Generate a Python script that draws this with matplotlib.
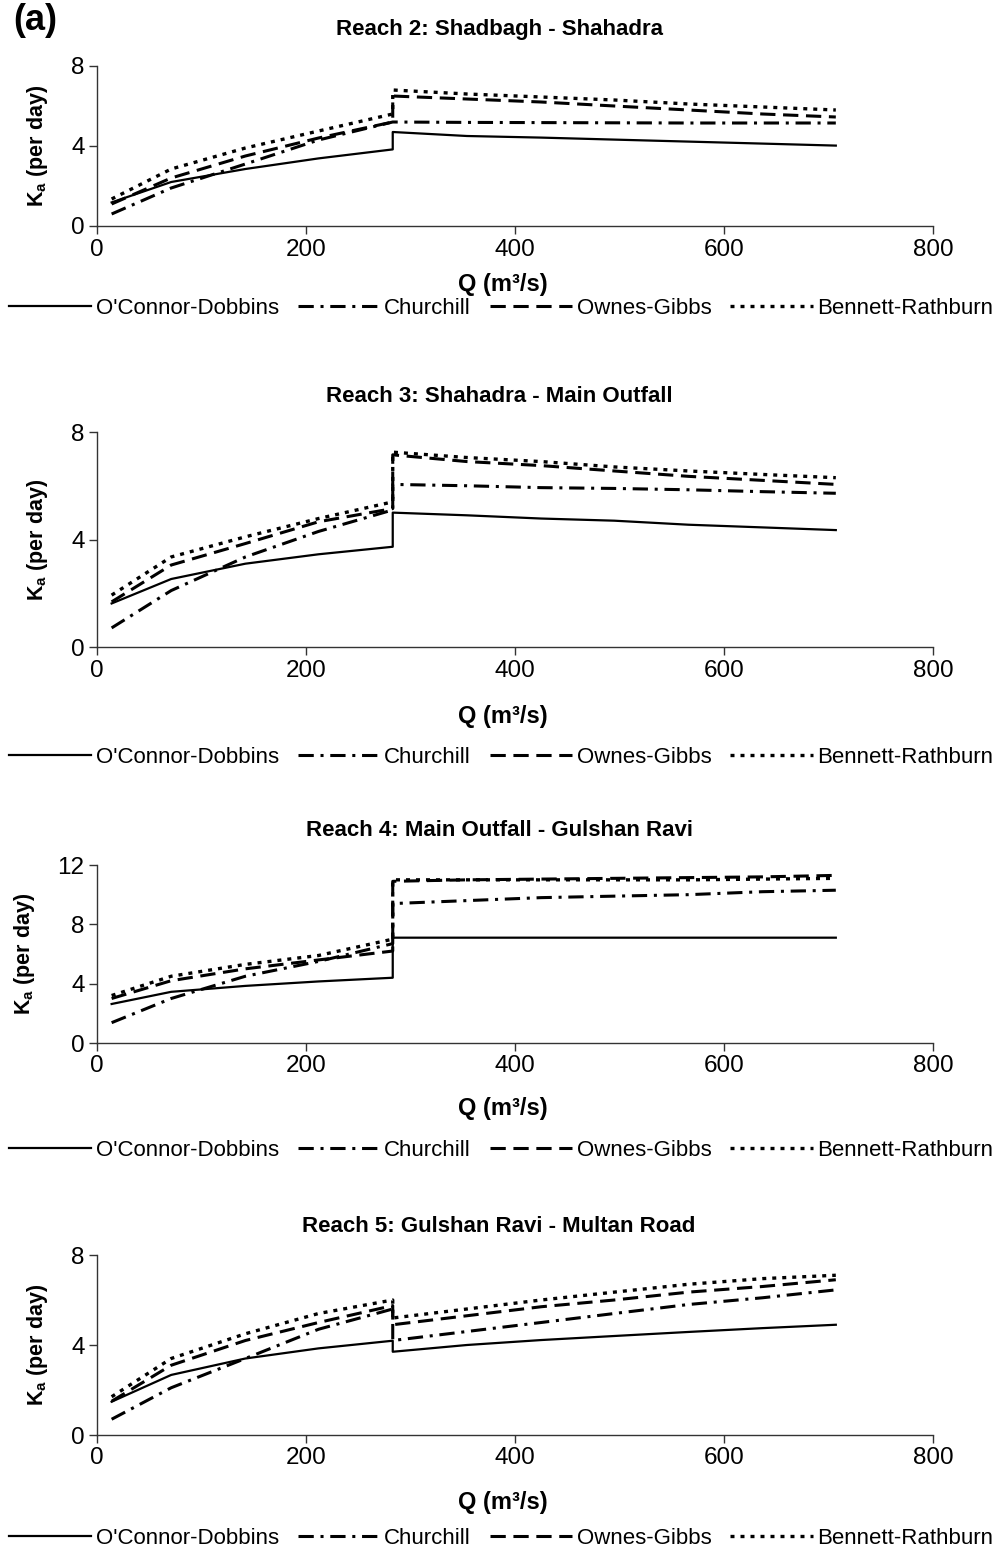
import matplotlib
matplotlib.use("Agg")
import matplotlib.pyplot as plt

plt.rcParams['font.family'] = ['Liberation Sans', 'DejaVu Sans']
plt.rcParams['mathtext.fontset'] = 'custom'
plt.rcParams['mathtext.rm'] = 'Liberation Sans'
plt.rcParams['mathtext.bf'] = 'Liberation Sans:bold'

# flow values, the double 283 is where the regime changes
Q = [14, 71, 142, 212, 283, 283, 354, 425, 495, 566, 637, 707]

methods = ["O'Connor-Dobbins", "Churchill", "Ownes-Gibbs", "Bennett-Rathburn"]

# Reach 2: Shadbagh - Shahadra
r2_oconnor = [1.18, 2.2, 2.85, 3.38, 3.83, 4.7, 4.5, 4.42, 4.32, 4.22, 4.12, 4.02]
r2_churchill = [0.6, 1.9, 3.1, 4.3, 5.2, 5.2, 5.18, 5.17, 5.16, 5.15, 5.15, 5.15]
r2_owens = [1.1, 2.4, 3.5, 4.4, 5.2, 6.5, 6.35, 6.2, 6.0, 5.8, 5.6, 5.45]
r2_bennett = [1.35, 2.85, 3.9, 4.75, 5.6, 6.8, 6.6, 6.45, 6.3, 6.1, 5.95, 5.8]

# Reach 3: Shahadra - Main Outfall
r3_oconnor = [1.62, 2.53, 3.1, 3.45, 3.73, 5.0, 4.9, 4.78, 4.7, 4.55, 4.45, 4.35]
r3_churchill = [0.71, 2.1, 3.35, 4.3, 5.1, 6.05, 6.0, 5.93, 5.9, 5.85, 5.78, 5.72]
r3_owens = [1.68, 3.05, 3.85, 4.66, 5.15, 7.15, 6.9, 6.75, 6.55, 6.35, 6.2, 6.05]
r3_bennett = [1.93, 3.35, 4.1, 4.78, 5.4, 7.25, 7.05, 6.9, 6.7, 6.55, 6.42, 6.3]

# Reach 4: Main Outfall - Gulshan Ravi
r4_oconnor = [2.63, 3.45, 3.85, 4.15, 4.4, 7.1, 7.1, 7.1, 7.1, 7.1, 7.1, 7.1]
r4_churchill = [1.37, 3.0, 4.5, 5.5, 6.7, 9.4, 9.6, 9.8, 9.9, 10.0, 10.2, 10.3]
r4_owens = [3.0, 4.2, 5.0, 5.6, 6.2, 10.9, 11.0, 11.05, 11.1, 11.15, 11.2, 11.3]
r4_bennett = [3.2, 4.5, 5.3, 5.9, 7.0, 11.0, 11.0, 11.0, 11.0, 11.0, 11.05, 11.1]

# Reach 5: Gulshan Ravi - Multan Road
r5_oconnor = [1.48, 2.67, 3.4, 3.85, 4.19, 3.7, 4.0, 4.22, 4.4, 4.58, 4.75, 4.9]
r5_churchill = [0.7, 2.1, 3.4, 4.7, 5.6, 4.2, 4.6, 5.0, 5.4, 5.8, 6.1, 6.45]
r5_owens = [1.5, 3.1, 4.2, 5.0, 5.75, 4.9, 5.3, 5.7, 6.0, 6.35, 6.6, 6.9]
r5_bennett = [1.7, 3.4, 4.5, 5.4, 6.0, 5.2, 5.6, 6.0, 6.35, 6.7, 6.95, 7.1]

titles = ["Reach 2: Shadbagh - Shahadra", "Reach 3: Shahadra - Main Outfall",
          "Reach 4: Main Outfall - Gulshan Ravi", "Reach 5: Gulshan Ravi - Multan Road"]
reaches = [
    [r2_oconnor, r2_churchill, r2_owens, r2_bennett],
    [r3_oconnor, r3_churchill, r3_owens, r3_bennett],
    [r4_oconnor, r4_churchill, r4_owens, r4_bennett],
    [r5_oconnor, r5_churchill, r5_owens, r5_bennett],
]
yticks = [[0, 4, 8], [0, 4, 8], [0, 4, 8, 12], [0, 4, 8]]

styles = [
    dict(linestyle='-', lw=1.6),
    dict(linestyle=(0, (5, 2.2, 1, 2.2)), lw=2.2),
    dict(linestyle=(0, (5, 2.5)), lw=2.2),
    dict(linestyle=(0, (1.2, 1.8)), lw=2.4),
]

fig = plt.figure(figsize=(10, 15.52), dpi=100)
H = 1552.0

# axes boxes in pixels: (top, bottom) of the plotting area
boxes = [(66, 226), (432, 647), (865, 1043), (1255, 1435)]
title_y = [30, 397, 830, 1227]
xlabel_y = [284, 716, 1108, 1502]
legend_y = [308, 757, 1150, 1538]

for i in range(4):
    top, bot = boxes[i]
    ax = fig.add_axes([0.097, 1 - bot / H, 0.836, (bot - top) / H])
    for vals, st in zip(reaches[i], styles):
        ax.plot(Q, vals, color='black', **st)
    ax.set_xlim(0, 800)
    ax.set_ylim(0, yticks[i][-1])
    ax.set_xticks([0, 200, 400, 600, 800])
    ax.set_yticks(yticks[i])
    for s in ['top', 'right']:
        ax.spines[s].set_visible(False)
    for s in ['left', 'bottom']:
        ax.spines[s].set_color('#333333')
        ax.spines[s].set_linewidth(1.0)
    ax.tick_params(direction='out', length=6, width=1.0, color='#333333',
                   labelsize=17.5, pad=3)
    ax.set_ylabel(r'K$_{\mathbf{a}}$ (per day)', fontsize=15.5, fontweight='bold',
                  labelpad=15)
    fig.text(0.499, 1 - title_y[i] / H, titles[i], ha='center', va='center',
             fontsize=16, fontweight='bold')
    fig.text(0.503, 1 - xlabel_y[i] / H, 'Q (m³/s)', ha='center', va='center',
             fontsize=17, fontweight='bold')
    fig.legend(ax.get_lines(), methods, loc='center',
               bbox_to_anchor=(0.501, 1 - legend_y[i] / H), ncol=4,
               frameon=False, handlelength=3.7, handletextpad=0.2,
               columnspacing=0.85, borderaxespad=0, borderpad=0,
               prop={'size': 16})

fig.text(0.013, 1 - 20 / H, '(a)', ha='left', va='center', fontsize=26,
         fontweight='bold')

fig.savefig('out.png', dpi=100)
